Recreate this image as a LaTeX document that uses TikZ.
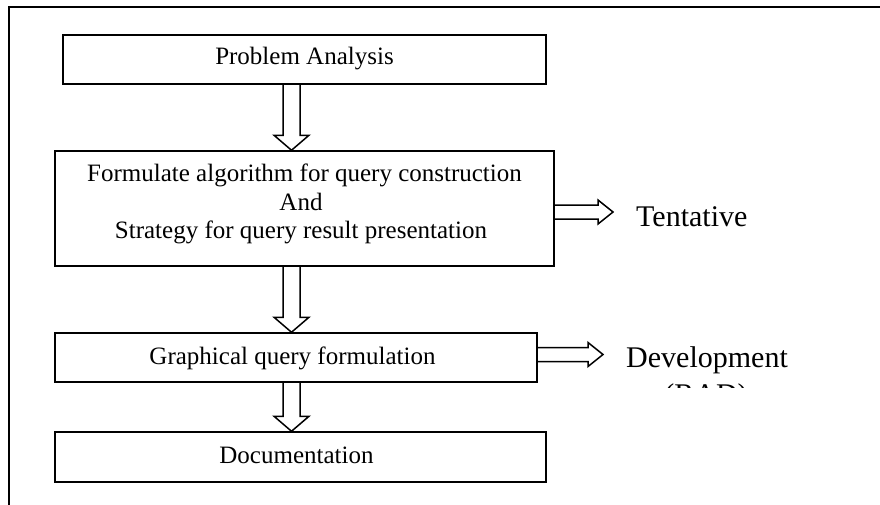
\documentclass[tikz,border=0pt]{standalone}
\usepackage{fontspec}
\setmainfont{Liberation Serif}
\usetikzlibrary{calc}
\begin{document}
\begin{tikzpicture}[x=1pt,y=-1pt,
  box/.style={draw, line width=1.5pt, rectangle, inner sep=0pt},
  txt/.style={inner sep=0pt, anchor=base, font=\fontsize{25}{28.5}\selectfont},
  side/.style={inner sep=0pt, font=\fontsize{30}{36}\selectfont},
  blockdown/.style={draw, line width=1.5pt, line join=miter, to path={let \p1=(\tikztostart), \p2=(\tikztotarget) in
     (\x1-8.5pt,\y1) -- (\x1-8.5pt,\y2+15pt) -- (\x1-17.5pt,\y2+15pt) -- (\x2,\y2)
     -- (\x1+17.5pt,\y2+15pt) -- (\x1+8.5pt,\y2+15pt) -- (\x1+8.5pt,\y1)}},
  blockright/.style={draw, line width=1.5pt, line join=miter, to path={let \p1=(\tikztostart), \p2=(\tikztotarget) in
     (\x1,\y1+7pt) -- (\x2-15pt,\y1+7pt) -- (\x2-15pt,\y1+12pt) -- (\x2,\y2)
     -- (\x2-15pt,\y1-12pt) -- (\x2-15pt,\y1-7pt) -- (\x1,\y1-7pt)}},
]
\path[use as bounding box] (0,0) rectangle (880,504);
\fill[white] (0,0) rectangle (880,504);
\clip (0,0) rectangle (880,504);

% outer frame (runs past the page on the right and bottom)
\draw[line width=1.5pt] (9,520) -- (9,7) -- (900,7);

% process boxes
\node[box, minimum width=483pt, minimum height=49pt] (pa) at (304.5,59.5) {};
\node[box, minimum width=499pt, minimum height=115pt] (fq) at (304.5,208.5) {};
\node[box, minimum width=482pt, minimum height=49pt] (gq) at (296,357.5) {};
\node[box, minimum width=491pt, minimum height=50pt] (doc) at (300.5,457) {};

% box texts
\node[txt] (pa-t) at (304.5,64) {Problem Analysis};
\node[txt] (fq-t1) at (304.5,181.5) {Formulate algorithm for query construction};
\node[txt] (fq-t2) at (301,210) {And};
\node[txt] (fq-t3) at (301,238.5) {Strategy for query result presentation};
\node[txt] (gq-t) at (292.5,364) {Graphical query formulation};
\node[txt] (doc-t) at (296.5,463) {Documentation};

% flow arrows between the boxes
\coordinate (ax) at (291.5,0);
\draw[blockdown] (pa.south -| ax) to (fq.north -| ax);
\draw[blockdown] (fq.south -| ax) to (gq.north -| ax);
\draw[blockdown] (gq.south -| ax) to (doc.north -| ax);

% side arrows and their labels
\coordinate (ty) at (0,212);
\coordinate (t-tip) at (613,212);
\draw[blockright] (fq.east |- ty) to (t-tip);
\node[side, anchor=base west] (tent) at (636,226) {Tentative};

\coordinate (dy) at (0,354.5);
\coordinate (d-tip) at (603,354.5);
\draw[blockright] (gq.east |- dy) to (d-tip);
\node[side, anchor=base west] (dev) at (626,367) {Development};
\begin{scope}
  \clip (590,330) rectangle (880,387);
  \node[side, anchor=base] (rad) at (706,404) {(RAD)};
\end{scope}
\end{tikzpicture}
\end{document}
